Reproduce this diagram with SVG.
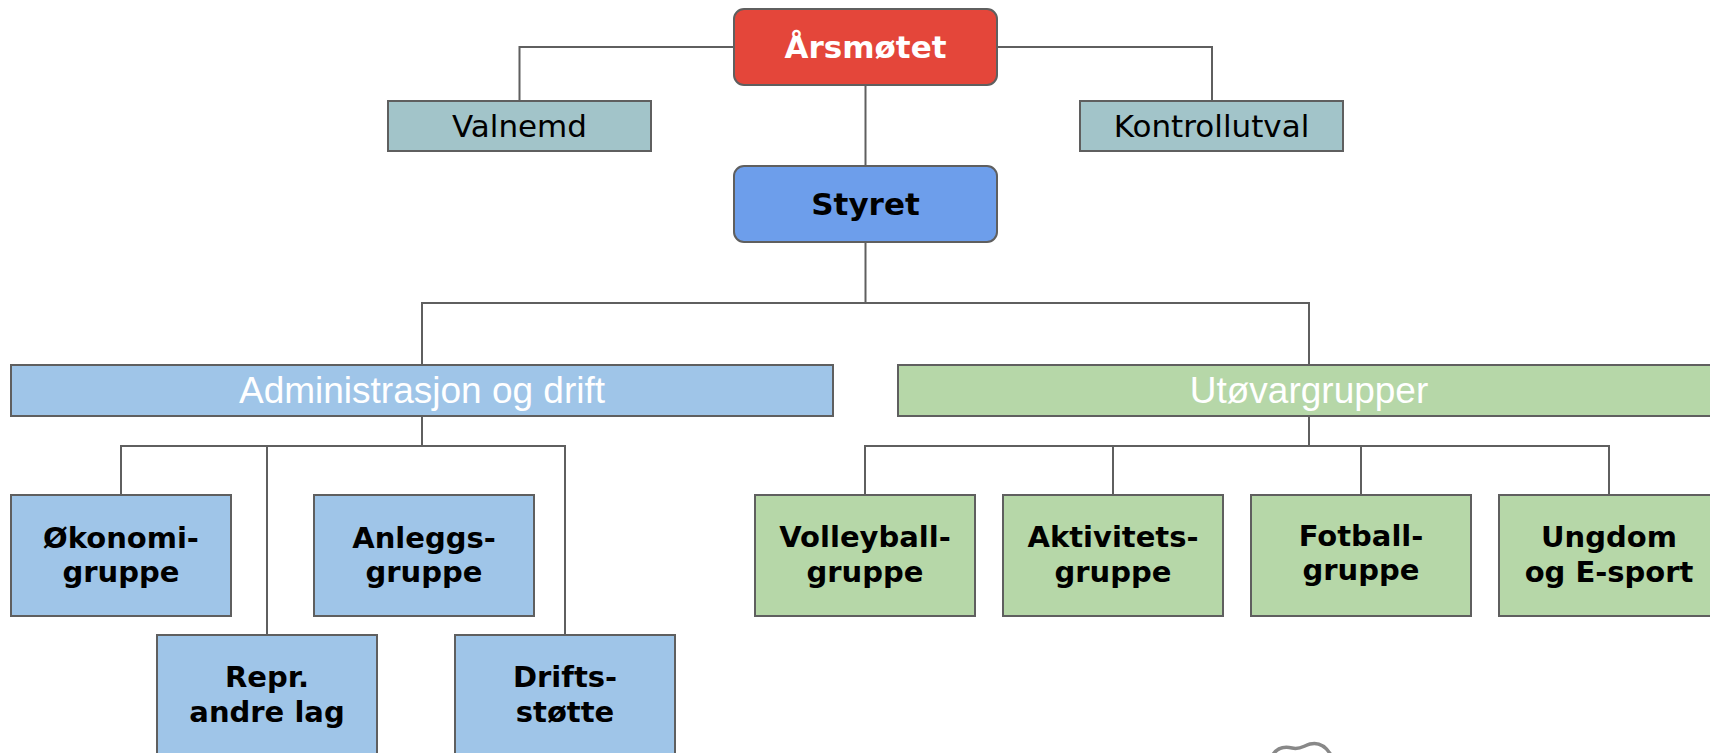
<svg xmlns="http://www.w3.org/2000/svg" width="1710" height="753" viewBox="0 0 1710 753">
<style>
.box{stroke:#5f5f5f;stroke-width:2}
.conn{fill:none;stroke:#5f5f5f;stroke-width:2}
.b{font-family:"DejaVu Sans",Verdana,sans-serif;font-weight:bold;text-anchor:middle}
.r{font-family:"DejaVu Sans",Verdana,sans-serif;font-size:31px;text-anchor:middle;fill:#000}
.h{font-family:"Liberation Sans",Arial,sans-serif;font-size:37px;text-anchor:middle;fill:#fff}
.s{font-size:29px;fill:#000}
.blue{fill:#9fc5e8}
.green{fill:#b6d7a8}
.teal{fill:#a2c4c9}
</style>
<rect width="1710" height="753" fill="#fff"/>
<g id="connectors">
<path class="conn" d="M734,47 H519.5 V101"/>
<path class="conn" d="M997,47 H1212 V101"/>
<path class="conn" d="M865.5,85 V166"/>
<path class="conn" d="M865.5,242 V303"/>
<path class="conn" d="M422,365 V303 H1309 V365"/>
<path class="conn" d="M422,416 V446"/>
<path class="conn" d="M121,495 V446 H565 V635"/>
<path class="conn" d="M267,447 V635"/>
<path class="conn" d="M1309,416 V446"/>
<path class="conn" d="M865,495 V446 H1609 V495"/>
<path class="conn" d="M1113,446 V495"/>
<path class="conn" d="M1361,446 V495"/>
</g>
<g id="arsmotet">
<rect class="box" x="734" y="9" width="263" height="76" rx="10" fill="#e4463a"/>
<text class="b" x="865.5" y="58" font-size="31" fill="#fff">Årsmøtet</text>
</g>
<g id="valnemd">
<rect class="box teal" x="388" y="101" width="263" height="50"/>
<text class="r" x="519.5" y="137">Valnemd</text>
</g>
<g id="kontrollutval">
<rect class="box teal" x="1080" y="101" width="263" height="50"/>
<text class="r" x="1211.5" y="137">Kontrollutval</text>
</g>
<g id="styret">
<rect class="box" x="734" y="166" width="263" height="76" rx="10" fill="#6d9eeb"/>
<text class="b" x="865.5" y="215" font-size="31" fill="#000">Styret</text>
</g>
<g id="admin">
<rect class="box blue" x="11" y="365" width="822" height="51"/>
<text class="h" x="422" y="403">Administrasjon og drift</text>
</g>
<g id="utovar">
<rect class="box green" x="898" y="365" width="822" height="51"/>
<text class="h" x="1309" y="403">Utøvargrupper</text>
</g>
<g id="okonomi">
<rect class="box blue" x="11" y="495" width="220" height="121"/>
<text class="b s" x="121" y="548">Økonomi-</text>
<text class="b s" x="121" y="582">gruppe</text>
</g>
<g id="anleggs">
<rect class="box blue" x="314" y="495" width="220" height="121"/>
<text class="b s" x="424" y="548">Anleggs-</text>
<text class="b s" x="424" y="582">gruppe</text>
</g>
<g id="repr">
<rect class="box blue" x="157" y="635" width="220" height="121"/>
<text class="b s" x="267" y="687">Repr.</text>
<text class="b s" x="267" y="722">andre lag</text>
</g>
<g id="drifts">
<rect class="box blue" x="455" y="635" width="220" height="121"/>
<text class="b s" x="565" y="687">Drifts-</text>
<text class="b s" x="565" y="722">støtte</text>
</g>
<g id="volleyball">
<rect class="box green" x="755" y="495" width="220" height="121"/>
<text class="b s" x="865" y="547">Volleyball-</text>
<text class="b s" x="865" y="582">gruppe</text>
</g>
<g id="aktivitets">
<rect class="box green" x="1003" y="495" width="220" height="121"/>
<text class="b s" x="1113" y="547">Aktivitets-</text>
<text class="b s" x="1113" y="582">gruppe</text>
</g>
<g id="fotball">
<rect class="box green" x="1251" y="495" width="220" height="121"/>
<text class="b s" x="1361" y="546">Fotball-</text>
<text class="b s" x="1361" y="580">gruppe</text>
</g>
<g id="ungdom">
<rect class="box green" x="1499" y="495" width="220" height="121"/>
<text class="b s" x="1609" y="547">Ungdom</text>
<text class="b s" x="1609" y="582">og E-sport</text>
</g>
<path d="M1272,756 C1276,749 1283,746 1292,748 C1300,750 1303,746 1310,744 C1318,742 1325,745 1331,755" fill="none" stroke="#888" stroke-width="3.5"/>
</svg>
